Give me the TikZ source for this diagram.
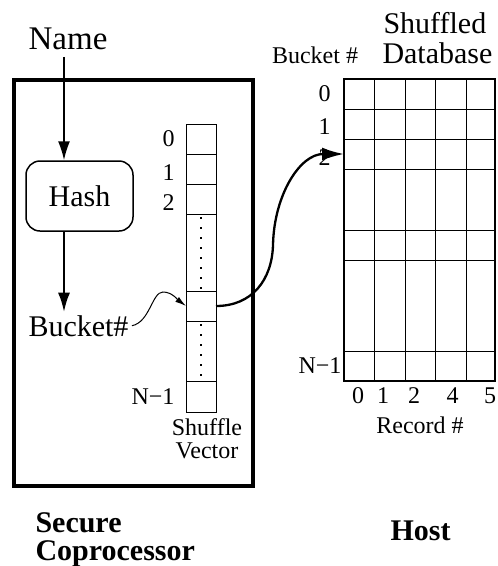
\documentclass[tikz,border=0pt]{standalone}
\usepackage{fontspec}
\setmainfont{Liberation Serif}
\usetikzlibrary{arrows.meta,positioning,calc}
\tikzset{every path/.style={>={Latex[length=19pt,width=12pt]},line width=1pt,color=black}}
\tikzset{cell/.style={draw,line width=0.8pt,minimum width=30pt,inner sep=0pt,outer sep=0pt},
row/.style={draw,line width=0.8pt,minimum width=151pt,inner sep=0pt,outer sep=0pt},
big/.style={font=\fontsize{30}{30}\selectfont,inner sep=3pt},
small/.style={font=\fontsize{24}{24}\selectfont,inner sep=3pt},
heavy/.style={font=\fontsize{30}{30}\selectfont\bfseries,inner sep=3pt}}

\begin{document}
\begin{tikzpicture}[x=1pt,y=-1pt]
\useasboundingbox (0,0) rectangle (498,566);

% secure coprocessor side
\draw[line width=4pt] (14,80) rectangle (253,486);

\node[font=\fontsize{33}{33}\selectfont,anchor=base,inner sep=7pt] (name) at (68,49) {Name};
\node[draw,line width=1.5pt,rounded corners=14pt,minimum width=107pt,minimum height=70pt,big] (hash) at (79.5,196) {Hash};
\node[big,anchor=base west] (bucket) at (25,336) {Bucket\#};
\coordinate (ax) at (64,0);
\path[draw,line width=1.7pt,->] (name.south -| ax) -- (hash.north -| ax);
\path[draw,line width=1.7pt,->] (hash.south -| ax) -- (bucket.north -| ax);

\begin{scope}[every node/.style={cell}]
\node[minimum height=30pt] (v0) at (201,139) {};
\node[minimum height=30pt] (v1) at (201,169) {};
\node[minimum height=30pt] (v2) at (201,199) {};
\node[minimum height=77pt] (vd1) at (201,252.5) {};
\node[minimum height=30pt] (vb) at (201,306) {};
\node[minimum height=60pt] (vd2) at (201,351) {};
\node[minimum height=31pt] (vn) at (201,396.5) {};
\end{scope}
%\draw[dotted] (vd1.north) -- (vd1.south);
\draw[line width=1.5pt,dash pattern=on 1.5pt off 8.5pt] ([yshift=-3pt]vd1.north) -- (vd1.south);
\draw[line width=1.5pt,dash pattern=on 1.5pt off 8.5pt] ([yshift=-3pt]vd2.north) -- (vd2.south);

\node[small,left=8pt of v0] (l0) {0};
\node[small,left=8pt of v1,yshift=-4pt] (l1) {1};
\node[small,left=8pt of v2,yshift=-4pt] (l2) {2};
\node[small,left=8pt of vn] (ln) {N−1};
\node[small,anchor=base] (sv1) at (207,435) {Shuffle};
\node[small,anchor=base] (sv2) at (207,458) {Vector};

% host side
\begin{scope}[every node/.style={row}]
\node[minimum height=30pt] (r0) at (419.5,94) {};
\node[minimum height=30pt] (r1) at (419.5,124) {};
\node[minimum height=30pt] (r2) at (419.5,154) {};
\node[minimum height=61pt] (r3) at (419.5,199.5) {};
\node[minimum height=30pt] (r4) at (419.5,245) {};
\node[minimum height=91pt] (r5) at (419.5,305.5) {};
\node[minimum height=30pt] (rn) at (419.5,366) {};
\end{scope}
\foreach \x in {374,405,435,466}
  \draw[line width=0.8pt] (r0.north -| \x,0) -- (rn.south -| \x,0);
\draw[line width=2pt] (r0.north west) rectangle (rn.south east);

\node[small,left=10pt of r0] (k0) {0};
\node[small,left=10pt of r1,yshift=-3pt] (k1) {1};
\node[small,left=10pt of r2,yshift=-4pt] (k2) {2};
\node[small,left=-1pt of rn] (kn) {N−1};

\node[small,anchor=base] (c0) at (358,403) {0};
\node[small,anchor=base] (c1) at (383,403) {1};
\node[small,anchor=base] (c2) at (414,403) {2};
\node[small,anchor=base] (c4) at (452.5,403) {4};
\node[small,anchor=base] (c5) at (490,403) {5};
\node[small,anchor=base] (rec) at (420,433) {Record \#};

\node[small,anchor=base] (bhead) at (315,63) {Bucket \#};
\node[big,anchor=base west] (shuf) at (380,33) {Shuffled};
\node[big,anchor=base west] (dbase) at (379,63) {Database};

\path[draw,-{Latex[length=11pt,width=6pt]}] (bucket.east) .. controls (150,322) and (152,292) .. (163,292) .. controls (172,292) and (178,300) .. (vb.west);
\path[draw,line width=2.3pt,-{Latex[length=22pt,width=13pt]}] (vb.east) .. controls (252,306) and (272,280) .. (273,245) .. controls (274,195) and (300,154) .. (r2.west);

\node[heavy,anchor=base west] (sec1) at (32,532) {Secure};
\node[heavy,anchor=base west] (sec2) at (32,560) {Coprocessor};
\node[heavy,anchor=base west] (host) at (387,540) {Host};

\end{tikzpicture}
\end{document}
